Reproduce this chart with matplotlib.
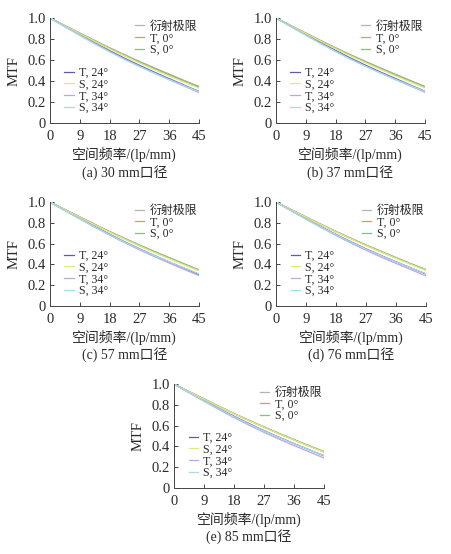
import matplotlib
matplotlib.use("Agg")
import matplotlib.pyplot as plt

plt.rcParams['font.family'] = ['Liberation Serif', 'Noto Sans CJK SC', 'DejaVu Sans']
plt.rcParams['axes.unicode_minus'] = False

# spatial frequency (lp/mm)
freq = [0, 4.5, 9, 13.5, 18, 22.5, 27, 31.5, 36, 40.5, 45]

labels = ['衍射极限', 'T, 0°', 'S, 0°', 'T, 24°', 'S, 24°', 'T, 34°', 'S, 34°']
colors = ['#b4b4b4', '#f28a78', '#86bf82', '#5c5ca8', '#e6e67a', '#c8a2dc', '#9fdfe8']

captions = ['(a) 30 mm口径', '(b) 37 mm口径', '(c) 57 mm口径',
            '(d) 76 mm口径', '(e) 85 mm口径']

diff_limit = [1.00, 0.928, 0.857, 0.786, 0.717, 0.651, 0.587, 0.526, 0.466, 0.406, 0.348]

panel_a = [
    diff_limit,
    [1.00, 0.926, 0.853, 0.781, 0.711, 0.644, 0.579, 0.517, 0.457, 0.398, 0.340],
    [1.00, 0.927, 0.855, 0.784, 0.714, 0.647, 0.583, 0.521, 0.461, 0.402, 0.344],
    [1.00, 0.920, 0.842, 0.764, 0.689, 0.617, 0.549, 0.484, 0.422, 0.361, 0.300],
    [1.00, 0.925, 0.851, 0.778, 0.707, 0.639, 0.573, 0.509, 0.448, 0.390, 0.332],
    [1.00, 0.918, 0.838, 0.759, 0.682, 0.609, 0.540, 0.475, 0.412, 0.351, 0.290],
    [1.00, 0.915, 0.833, 0.753, 0.677, 0.605, 0.538, 0.475, 0.414, 0.356, 0.298],
]
panel_b = [
    diff_limit,
    [1.00, 0.926, 0.854, 0.782, 0.712, 0.645, 0.580, 0.518, 0.458, 0.399, 0.341],
    [1.00, 0.927, 0.855, 0.784, 0.714, 0.648, 0.584, 0.522, 0.462, 0.403, 0.345],
    [1.00, 0.921, 0.843, 0.766, 0.691, 0.619, 0.551, 0.486, 0.424, 0.363, 0.302],
    [1.00, 0.925, 0.852, 0.779, 0.708, 0.640, 0.575, 0.512, 0.451, 0.392, 0.334],
    [1.00, 0.918, 0.839, 0.760, 0.684, 0.611, 0.542, 0.477, 0.414, 0.353, 0.292],
    [1.00, 0.916, 0.835, 0.755, 0.679, 0.607, 0.540, 0.477, 0.416, 0.358, 0.300],
]
panel_c = [
    diff_limit,
    [1.00, 0.927, 0.855, 0.783, 0.713, 0.646, 0.582, 0.520, 0.460, 0.401, 0.343],
    [1.00, 0.927, 0.856, 0.785, 0.715, 0.649, 0.585, 0.523, 0.463, 0.404, 0.346],
    [1.00, 0.920, 0.842, 0.765, 0.690, 0.618, 0.550, 0.486, 0.424, 0.364, 0.304],
    [1.00, 0.926, 0.853, 0.781, 0.711, 0.643, 0.578, 0.515, 0.455, 0.396, 0.338],
    [1.00, 0.917, 0.837, 0.758, 0.682, 0.609, 0.540, 0.475, 0.413, 0.352, 0.292],
    [1.00, 0.918, 0.839, 0.761, 0.686, 0.615, 0.548, 0.485, 0.425, 0.367, 0.310],
]
panel_d = [
    diff_limit,
    [1.00, 0.927, 0.855, 0.784, 0.714, 0.647, 0.583, 0.521, 0.462, 0.404, 0.346],
    [1.00, 0.927, 0.856, 0.785, 0.716, 0.650, 0.586, 0.524, 0.465, 0.406, 0.349],
    [1.00, 0.919, 0.840, 0.763, 0.688, 0.617, 0.550, 0.486, 0.425, 0.366, 0.308],
    [1.00, 0.926, 0.854, 0.782, 0.713, 0.646, 0.581, 0.519, 0.459, 0.400, 0.342],
    [1.00, 0.916, 0.835, 0.755, 0.678, 0.605, 0.536, 0.471, 0.409, 0.349, 0.290],
    [1.00, 0.918, 0.838, 0.760, 0.685, 0.614, 0.547, 0.484, 0.424, 0.366, 0.310],
]
panel_e = [
    diff_limit,
    [1.00, 0.927, 0.855, 0.784, 0.714, 0.648, 0.584, 0.522, 0.463, 0.405, 0.347],
    [1.00, 0.927, 0.856, 0.785, 0.716, 0.650, 0.587, 0.525, 0.466, 0.407, 0.350],
    [1.00, 0.920, 0.841, 0.764, 0.690, 0.619, 0.552, 0.488, 0.427, 0.368, 0.310],
    [1.00, 0.926, 0.854, 0.783, 0.714, 0.647, 0.583, 0.521, 0.461, 0.402, 0.344],
    [1.00, 0.915, 0.834, 0.754, 0.677, 0.604, 0.535, 0.470, 0.408, 0.348, 0.288],
    [1.00, 0.918, 0.839, 0.761, 0.686, 0.615, 0.549, 0.486, 0.426, 0.368, 0.312],
]
panels = [panel_a, panel_b, panel_c, panel_d, panel_e]

W, H = 452, 554
# axes boxes in pixels: left, right, top, bottom
boxes = [(50, 199, 18, 123), (276, 425, 18, 123),
         (50, 199, 202, 306), (276, 426, 202, 306),
         (174, 324, 384, 488)]

fig = plt.figure(figsize=(W / 100, H / 100), dpi=100)

for data, cap, (l, r, t, b) in zip(panels, captions, boxes):
    ax = fig.add_axes([l / W, 1 - b / H, (r - l) / W, (b - t) / H])
    lines = []
    for vals, lab, c in zip(data, labels, colors):
        ln, = ax.plot(freq, vals, color=c, lw=0.9, label=lab)
        lines.append(ln)
    ax.set_xlim(0, 45)
    ax.set_ylim(0, 1.0)
    ax.set_xticks([0, 9, 18, 27, 36, 45])
    ax.set_yticks([0, 0.2, 0.4, 0.6, 0.8, 1.0])
    ax.set_yticklabels(['0', '0.2', '0.4', '0.6', '0.8', '1.0'])
    ax.tick_params(direction='in', length=3, width=0.6, labelsize=10.5, colors='#2a2a2a')
    ax.tick_params(axis='x', pad=5)
    ax.tick_params(axis='y', pad=3)
    for s in ['top', 'right']:
        ax.spines[s].set_visible(False)
    for s in ['left', 'bottom']:
        ax.spines[s].set_linewidth(0.7)
        ax.spines[s].set_color('#444444')
    ax.set_ylabel('MTF', fontsize=10.5, labelpad=5, color='#2a2a2a')
    ax.set_xlabel('空间频率/(lp/mm)', fontsize=10, labelpad=3, color='#2a2a2a')
    ax.text(0.5, -0.47, cap, transform=ax.transAxes, ha='center', va='center',
            fontsize=10, color='#2a2a2a')
    leg1 = ax.legend(handles=lines[:3], loc='upper right', bbox_to_anchor=(1.02, 1.02),
                     frameon=False, fontsize=8.6, handlelength=0.8, handletextpad=0.45,
                     labelspacing=-0.02, borderaxespad=0)
    for tx in leg1.get_texts():
        tx.set_color('#2a2a2a')
    ax.add_artist(leg1)
    leg2 = ax.legend(handles=lines[3:], loc='lower left', bbox_to_anchor=(0.065, 0.04),
                     frameon=False, fontsize=8.6, handlelength=0.8, handletextpad=0.45,
                     labelspacing=-0.02, borderaxespad=0)
    for tx in leg2.get_texts():
        tx.set_color('#2a2a2a')

fig.savefig('out.png', dpi=100)
